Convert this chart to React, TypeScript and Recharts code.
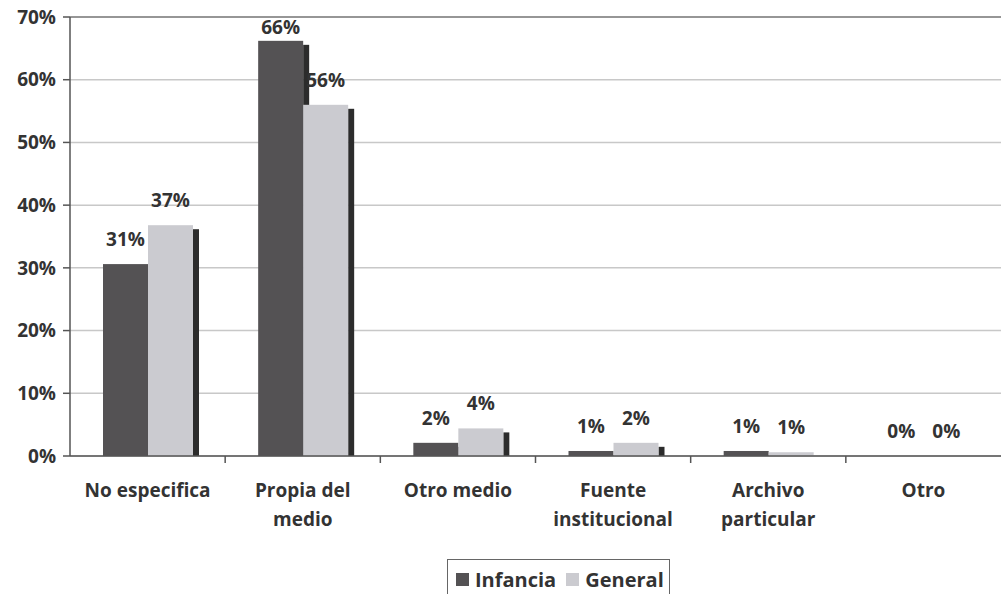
import React from 'react';
import { BarChart, Bar, XAxis, YAxis, CartesianGrid, LabelList, ReferenceLine } from 'recharts';

// Fuente de la información, % por grupo
const categories = ['No especifica', 'Propia del\nmedio', 'Otro medio', 'Fuente\ninstitucional', 'Archivo\nparticular', 'Otro'];
const infancia = [30.6, 66.2, 2.1, 0.8, 0.8, 0];
const general = [36.8, 56.0, 4.4, 2.1, 0.6, 0];
const yTicks = [0, 10, 20, 30, 40, 50, 60, 70];

const data = categories.map((name, i) => ({ name, infancia: infancia[i], general: general[i] }));

const FONT = '"Open Sans", "DejaVu Sans", sans-serif';
const TEXT = '#333333';
const DARK = '#545254';
const LIGHT = '#cbcbd0';
const SHADOW = '#2c2c2c';

// bar with the dark strip on the right, like the old 3D-ish office charts
const ShadowBar = (props: any) => {
  const { x, y, width, height, fill } = props;
  const sh = height - 4;
  return (
    <g>
      {sh > 0 && <rect x={x + width} y={y + 4} width={6} height={sh} fill={SHADOW} />}
      <rect x={x} y={y} width={width} height={height} fill={fill} />
    </g>
  );
};

// value label above the bar, kept below the top edge of the plot
const ValueLabel = (props: any) => {
  const { x, y, width, value } = props;
  const base = Math.max(y - 18, 34);
  return (
    <text x={x + width / 2} y={base} textAnchor="middle" fill={TEXT}
      fontFamily={FONT} fontWeight={700} fontSize={19}>
      {`${Math.round(value)}%`}
    </text>
  );
};

const CategoryTick = (props: any) => {
  const { x, y, payload, index, width, visibleTicksCount } = props;
  const band = width / visibleTicksCount;
  const lines = String(payload.value).split('\n');
  return (
    <g>
      {index > 0 && <line x1={x - band / 2} x2={x - band / 2} y1={y} y2={y + 7} stroke="#555" strokeWidth={1.5} />}
      <text x={x} y={y} textAnchor="middle" fill={TEXT} fontFamily={FONT} fontWeight={700} fontSize={19}>
        {lines.map((l, i) => (
          <tspan key={i} x={x} dy={i === 0 ? 41 : 29}>{l}</tspan>
        ))}
      </text>
    </g>
  );
};

export default function App() {
  return (
    <div style={{ position: 'absolute', left: 0, top: 0, width: 1001, height: 594, background: '#fff' }}>
      <BarChart
        width={1001}
        height={594}
        data={data}
        margin={{ top: 17, right: 0, left: 0, bottom: 0 }}
        barGap={0}
        barCategoryGap={32}
      >
        <CartesianGrid vertical={false} stroke="#c8c8c8" strokeWidth={1.5} />
        <ReferenceLine y={70} stroke="#808080" strokeWidth={1.5} />
        <YAxis
          width={70}
          domain={[0, 70]}
          ticks={yTicks}
          tickFormatter={(v: number) => `${v}%`}
          axisLine={{ stroke: '#555', strokeWidth: 1.5 }}
          tickLine={{ stroke: '#555', strokeWidth: 1.5 }}
          tickSize={7}
          tickMargin={7}
          tick={{ fill: TEXT, fontFamily: FONT, fontWeight: 700, fontSize: 19 }}
        />
        <XAxis
          dataKey="name"
          interval={0}
          axisLine={{ stroke: '#555', strokeWidth: 1.5 }}
          tickLine={false}
          tickSize={0}
          tickMargin={0}
          height={138}
          tick={<CategoryTick />}
        />
        <Bar dataKey="infancia" fill={DARK} barSize={45} shape={<ShadowBar />} isAnimationActive={false}>
          <LabelList dataKey="infancia" content={<ValueLabel />} />
        </Bar>
        <Bar dataKey="general" fill={LIGHT} barSize={45} shape={<ShadowBar />} isAnimationActive={false}>
          <LabelList dataKey="general" content={<ValueLabel />} />
        </Bar>
      </BarChart>
      <div
        style={{
          position: 'absolute', left: 447, top: 559, width: 223, height: 40,
          borderTop: '1.5px solid #666', borderLeft: '1.5px solid #666', borderRight: '1.5px solid #666',
          display: 'flex', alignItems: 'center', paddingLeft: 8, boxSizing: 'border-box',
          fontFamily: FONT, fontWeight: 700, fontSize: 20, color: TEXT,
        }}
      >
        <span style={{ width: 13, height: 13, background: DARK, display: 'inline-block', marginRight: 6 }} />
        <span style={{ marginRight: 10 }}>Infancia</span>
        <span style={{ width: 13, height: 13, background: LIGHT, display: 'inline-block', marginRight: 6 }} />
        <span>General</span>
      </div>
    </div>
  );
}
